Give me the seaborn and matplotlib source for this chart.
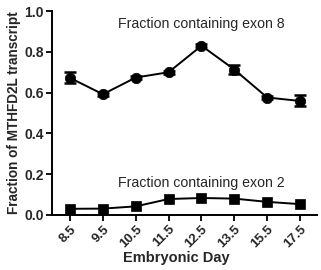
import matplotlib
matplotlib.use("Agg")
import matplotlib.pyplot as plt
import seaborn as sns
import pandas as pd
import numpy as np

days = ["8.5", "9.5", "10.5", "11.5", "12.5", "13.5", "15.5", "17.5"]
exon8 = [0.672, 0.592, 0.674, 0.700, 0.830, 0.713, 0.576, 0.559]
exon8_err = [0.027, 0.008, 0.008, 0.008, 0.008, 0.020, 0.008, 0.027]
exon2 = [0.030, 0.031, 0.042, 0.078, 0.083, 0.080, 0.064, 0.053]
exon2_err = [0.004, 0.004, 0.006, 0.006, 0.006, 0.006, 0.006, 0.005]

sns.set_style("ticks")
plt.rcParams['font.family'] = ['Liberation Sans', 'DejaVu Sans']

fig = plt.figure(figsize=(3.21, 2.70), dpi=100)
ax = fig.add_axes([0.162, 0.204, 0.826, 0.755])

pos = np.arange(len(days))
df8 = pd.DataFrame({"x": pos, "y": exon8})
df2 = pd.DataFrame({"x": pos, "y": exon2})

ax.errorbar(pos, exon8, yerr=exon8_err, fmt="none", ecolor="black",
            elinewidth=1.8, capsize=4, capthick=1.8, zorder=3)
ax.errorbar(pos, exon2, yerr=exon2_err, fmt="none", ecolor="black",
            elinewidth=1.5, capsize=3, capthick=1.5, zorder=3)
sns.lineplot(data=df8, x="x", y="y", ax=ax, color="black", marker="o",
             markersize=7.5, linewidth=1.4, markeredgecolor="black",
             markeredgewidth=0.5, zorder=4)
sns.lineplot(data=df2, x="x", y="y", ax=ax, color="black", marker="s",
             markersize=6.5, linewidth=1.4, markeredgecolor="black",
             markeredgewidth=0.5, zorder=4)

ax.set_xlim(-0.55, 7.52)
ax.set_ylim(0, 1.0)
ax.set_xticks(pos)
ax.set_xticklabels(days, rotation=45, ha="right", rotation_mode="anchor",
                   fontsize=9.5, fontweight="bold")
ax.set_yticks([0, 0.2, 0.4, 0.6, 0.8, 1.0])
ax.set_yticklabels(["0.0", "0.2", "0.4", "0.6", "0.8", "1.0"],
                   fontsize=10, fontweight="bold")
ax.tick_params(axis="both", direction="out", length=4, width=1.3, color="black", pad=2)
for s in ["left", "bottom"]:
    ax.spines[s].set_linewidth(1.4)
    ax.spines[s].set_color("black")
sns.despine(ax=ax)

ax.set_xlabel("Embryonic Day", fontsize=10.5, fontweight="bold")
ax.xaxis.set_label_coords(0.47, -0.175)
ax.set_ylabel("Fraction of MTHFD2L transcript", fontsize=9.8, fontweight="bold", labelpad=2)

ax.text(4.0, 0.935, "Fraction containing exon 8", ha="center", va="center", fontsize=10.2)
ax.text(4.0, 0.155, "Fraction containing exon 2", ha="center", va="center", fontsize=10.2)

fig.savefig("out.png", dpi=100)
